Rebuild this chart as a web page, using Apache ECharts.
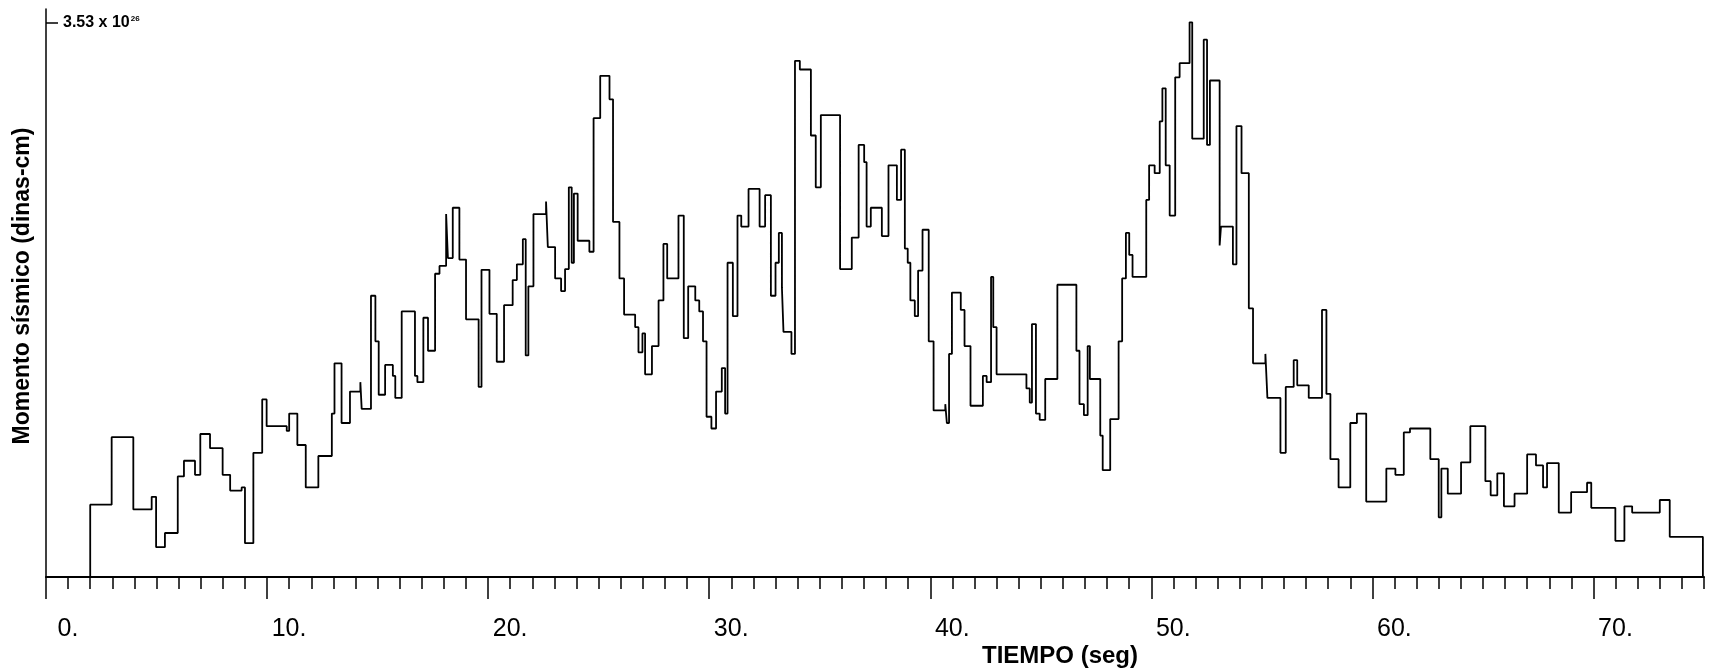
<!DOCTYPE html>
<html>
<head>
<meta charset="utf-8">
<script src="https://cdn.jsdelivr.net/npm/echarts@6/dist/echarts.min.js"></script>
<style>
html,body{margin:0;padding:0;background:#fff;}
#chart{width:1722px;height:669px;}
</style>
</head>
<body>
<div id="chart"></div>
<script>
// Time (s) at which each step starts, and moment value (x 10^26 dinas-cm) held from that time
const tiempo = [
 2.0, 2.0, 2.97, 3.95, 4.78, 4.98, 5.38, 5.96, 6.24, 6.74, 6.98, 7.42, 7.99, 8.33, 8.85, 9.0, 9.38, 9.78, 9.98,
 10.89, 11.0, 11.37, 11.75, 12.32, 12.93, 13.05, 13.37, 13.75, 14.22, 14.28, 14.7, 14.9, 15.05, 15.34, 15.69, 15.8,
 16.09, 16.69, 16.8, 17.07, 17.28, 17.6, 17.8, 18.1, 18.18, 18.4, 18.7, 19.0, 19.57, 19.7, 20.06, 20.39, 20.72,
 21.11, 21.3, 21.57, 21.7, 21.82, 22.05, 22.62, 22.7, 23.03, 23.3, 23.48, 23.65, 23.78, 23.88, 24.05, 24.58, 24.77,
 25.07, 25.49, 25.65, 25.94, 26.15, 26.65, 26.8, 26.98, 27.1, 27.41, 27.71, 27.93, 28.1, 28.61, 28.85, 29.05, 29.37,
 29.55, 29.72, 29.88, 30.1, 30.31, 30.57, 30.72, 30.83, 31.07, 31.28, 31.45, 31.78, 32.28, 32.53, 32.79, 33.0, 33.15,
 33.29, 33.36, 33.72, 33.88, 34.1, 34.6, 34.82, 35.05, 35.92, 36.45, 36.76, 37.01, 37.12, 37.31, 37.81, 38.11, 38.49,
 38.68, 38.85, 38.98, 39.1, 39.3, 39.45, 39.65, 39.93, 40.15, 40.68, 40.75, 40.85, 40.98, 41.38, 41.55, 41.82, 42.38,
 42.55, 42.75, 42.85, 43.0, 44.35, 44.5, 44.6, 44.78, 44.95, 45.2, 45.75, 46.61, 46.75, 46.95, 47.12, 47.22, 47.69,
 47.8, 48.14, 48.52, 48.68, 48.85, 49.0, 49.15, 49.77, 49.9, 50.15, 50.38, 50.5, 50.65, 50.83, 51.08, 51.28, 51.73,
 51.85, 52.37, 52.52, 52.65, 53.09, 53.15, 53.69, 53.85, 54.08, 54.41, 54.6, 55.16, 55.25, 55.84, 56.08, 56.44, 56.6,
 57.12, 57.72, 57.92, 58.1, 58.47, 59.0, 59.3, 59.72, 60.63, 61.04, 61.42, 61.7, 62.62, 63.0, 63.12, 63.41, 64.01,
 64.43, 65.11, 65.35, 65.65, 65.95, 66.43, 67.0, 67.4, 67.72, 67.9, 68.43, 68.99, 69.71, 69.9, 70.99, 71.4, 71.75,
 73.0, 73.45, 74.95
];
const momento = [
 0, 0.46, 0.89, 0.43, 0.51, 0.19, 0.28, 0.64, 0.74, 0.65, 0.91, 0.82, 0.65, 0.55, 0.57, 0.215, 0.79, 1.13, 0.96,
 0.93, 1.04, 0.84, 0.57, 0.77, 1.04, 1.36, 0.98, 1.18, 1.24, 1.07, 1.79, 1.50, 1.16, 1.35, 1.28, 1.14,
 1.69, 1.28, 1.24, 1.65, 1.44, 1.93, 1.98, 2.31, 2.03, 2.35, 2.02, 1.64, 1.21, 1.955, 1.675, 1.37, 1.73,
 1.89, 1.99, 2.15, 1.41, 1.85, 2.31, 2.39, 2.10, 1.90, 1.82, 1.96, 2.48, 2.0, 2.44, 2.14, 2.07, 2.92,
 3.19, 3.04, 2.26, 1.90, 1.67, 1.59, 1.43, 1.55, 1.29, 1.47, 1.76, 2.12, 1.90, 2.30, 1.52, 1.85, 1.76,
 1.69, 1.50, 1.02, 0.945, 1.18, 1.33, 1.04, 2.00, 1.66, 2.30, 2.23, 2.47, 2.23, 2.43, 1.79, 2.0, 2.19,
 1.84, 1.56, 1.42, 3.285, 3.23, 2.81, 2.48, 2.94, 1.96, 2.16, 2.75, 2.64, 2.23, 2.35, 2.17, 2.62, 2.40,
 2.72, 2.09, 2.00, 1.76, 1.66, 1.95, 2.21, 1.50, 1.06, 1.10, 0.98, 1.42, 1.81, 1.70, 1.47, 1.09, 1.28,
 1.24, 1.91, 1.59, 1.29, 1.20, 1.11, 1.61, 1.04, 1.00, 1.26, 1.86, 1.44, 1.10, 1.03, 1.47, 1.26, 0.90,
 0.68, 1.005, 1.50, 1.90, 2.19, 2.05, 1.91, 2.40, 2.62, 2.57, 2.90, 3.11, 2.62, 2.30, 3.18, 3.27, 3.53,
 2.79, 3.42, 2.75, 3.16, 2.11, 2.23, 1.99, 2.87, 2.57, 1.71, 1.36, 1.42, 1.14, 0.79, 1.21, 1.38, 1.22,
 1.14, 1.70, 1.165, 0.75, 0.57, 0.98, 1.04, 0.48, 0.69, 0.65, 0.92, 0.945, 0.75, 0.38, 0.69, 0.53, 0.73,
 0.96, 0.61, 0.52, 0.66, 0.45, 0.53, 0.78, 0.71, 0.57, 0.725, 0.41, 0.54, 0.60, 0.44, 0.23, 0.45, 0.41,
 0.49, 0.256, 0
];
const xTickLabels = [0, 10, 20, 30, 40, 50, 60, 70];
const yTickValues = [3.53];
const yLabelMantissa = '3.53 x 10';
const yLabelExponent = '26';
const xTitle = 'TIEMPO (seg)';
const yTitle = 'Momento sísmico (dinas-cm)';

const FONT = '"Liberation Sans", Arial, Helvetica, sans-serif';
const seriesData = tiempo.map((t, i) => [t, momento[i]]);

const chart = echarts.init(document.getElementById('chart'), null, {renderer: 'canvas'});
chart.setOption({
  animation: false,
  backgroundColor: '#fff',
  grid: {left: 46, top: 9, width: 1658, height: 568, containLabel: false},
  xAxis: [
    {
      type: 'value', min: 0, max: 75, interval: 1, position: 'bottom',
      axisLine: {show: true, lineStyle: {color: '#000', width: 2}},
      axisTick: {show: true, length: 12, lineStyle: {color: '#000', width: 1.5}},
      axisLabel: {show: false},
      splitLine: {show: false}
    },
    {
      type: 'value', min: 0, max: 75, interval: 10, position: 'bottom',
      axisLine: {show: false},
      axisTick: {show: true, customValues: xTickLabels, length: 22, lineStyle: {color: '#000', width: 1.5}},
      axisLabel: {
        show: true, customValues: xTickLabels, formatter: v => v + '.',
        color: '#000', fontSize: 25, fontFamily: FONT, margin: 40, padding: [0, 0, 0, 44]
      },
      splitLine: {show: false}
    }
  ],
  yAxis: {
    type: 'value', min: 0, max: 3.615,
    axisLine: {show: true, lineStyle: {color: '#000', width: 1.5}},
    axisTick: {show: true, inside: true, customValues: yTickValues, length: 12, lineStyle: {color: '#000', width: 1.5}},
    axisLabel: {
      show: true, inside: true, customValues: yTickValues, margin: 17,
      formatter: () => '{m|' + yLabelMantissa + '}{e|' + yLabelExponent + '}',
      rich: {
        m: {fontSize: 16, fontWeight: 'bold', color: '#000', fontFamily: FONT},
        e: {fontSize: 8, fontWeight: 'bold', color: '#000', fontFamily: FONT, verticalAlign: 'top', padding: [0, 0, 8, 1]}
      }
    },
    splitLine: {show: false}
  },
  series: [{
    type: 'line', xAxisIndex: 0, yAxisIndex: 0, step: 'end', showSymbol: false, symbol: 'none',
    data: seriesData,
    lineStyle: {color: '#000', width: 1.8},
    silent: true
  }],
  graphic: [
    {type: 'text', x: 1060, y: 656, style: {text: xTitle, font: 'bold 24px ' + FONT, fill: '#000', align: 'center', verticalAlign: 'middle'}},
    {type: 'text', x: 23, y: 286, rotation: Math.PI / 2, style: {text: yTitle, font: 'bold 23px ' + FONT, fill: '#000', align: 'center', verticalAlign: 'middle'}}
  ]
});
</script>
</body>
</html>
